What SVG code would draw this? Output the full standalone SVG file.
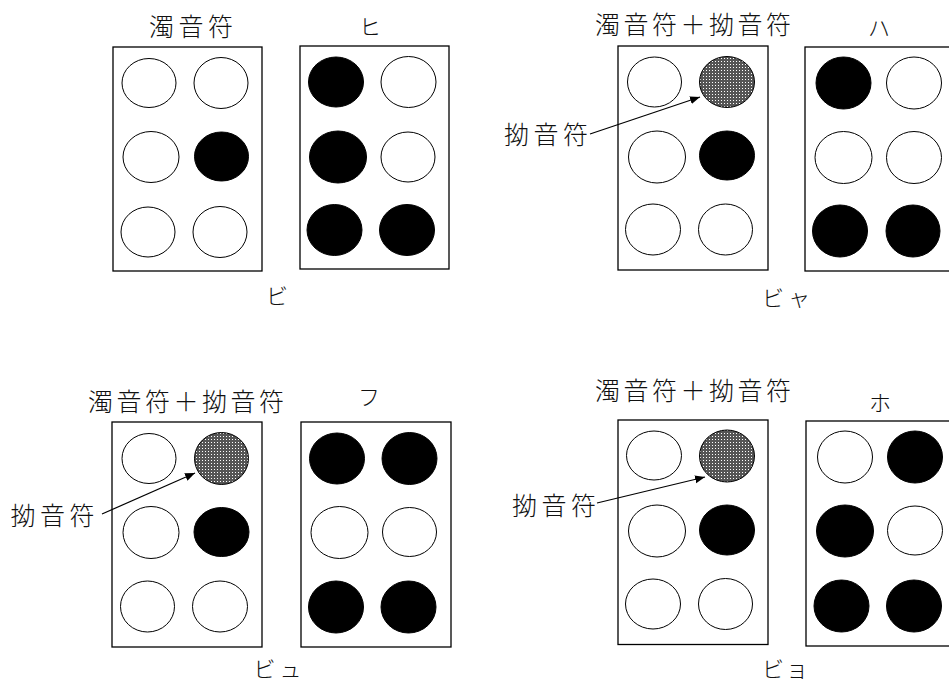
<svg xmlns="http://www.w3.org/2000/svg" width="949" height="684" viewBox="0 0 949 684">
<style>
.box{fill:#fff;stroke:#000;stroke-width:1.3}
.o{fill:#fff;stroke:#000;stroke-width:1}
.f{fill:#000;stroke:#000;stroke-width:1}
.g{fill:url(#dots);stroke:#000;stroke-width:1}
.lbl{font-family:"Noto Sans CJK JP","Noto Sans CJK SC",sans-serif;font-size:25px;fill:#111;text-anchor:middle;font-weight:300}
.kana{font-family:"Noto Sans CJK JP","Noto Sans CJK SC",sans-serif;font-size:22px;fill:#111;text-anchor:middle;font-weight:300}
.arr{stroke:#000;stroke-width:1.2;fill:none;marker-end:url(#ah)}
</style>
<defs>
<pattern id="dots" width="3" height="3" patternUnits="userSpaceOnUse">
<rect width="3" height="3" fill="#555"/>
<rect x="1" y="1" width="1" height="1" fill="#fff"/>
</pattern>
<marker id="ah" viewBox="0 0 10 10" refX="10" refY="5" markerWidth="10" markerHeight="10" markerUnits="userSpaceOnUse" orient="auto">
<path d="M0,1 L10,5 L0,9 z" fill="#000"/>
</marker>
</defs>
<rect width="949" height="684" fill="#fff"/>

<!-- Panel 1: ビ -->
<g id="p1-label"><text class="lbl" x="191" y="36" textLength="84" lengthAdjust="spacing">濁音符</text></g>
<g id="p1-box1">
<rect class="box" x="113" y="47" width="149" height="224"/>
<ellipse class="o" cx="149" cy="83" rx="27" ry="24.5"/>
<ellipse class="o" cx="221" cy="83" rx="27" ry="25.5"/>
<ellipse class="o" cx="151" cy="157" rx="28" ry="25.5"/>
<ellipse class="f" cx="221.5" cy="156.5" rx="27" ry="24.5"/>
<ellipse class="o" cx="148" cy="232" rx="27" ry="25"/>
<ellipse class="o" cx="220" cy="232" rx="27" ry="25.5"/>
</g>
<g id="p1-char"><text class="kana" x="370" y="35">ヒ</text></g>
<g id="p1-box2">
<rect class="box" x="300" y="46" width="149" height="223"/>
<ellipse class="f" cx="336" cy="82" rx="27.5" ry="25"/>
<ellipse class="o" cx="408.5" cy="82" rx="27.5" ry="25.5"/>
<ellipse class="f" cx="338" cy="157" rx="28.5" ry="26"/>
<ellipse class="o" cx="408" cy="157" rx="27" ry="25"/>
<ellipse class="f" cx="334.5" cy="230" rx="27.5" ry="25.5"/>
<ellipse class="f" cx="407" cy="230" rx="27.5" ry="25.5"/>
</g>
<g id="p1-result"><text class="kana" x="277" y="304">ビ</text></g>

<!-- Panel 2: ビャ -->
<g id="p2-label"><text class="lbl" x="693" y="34" textLength="196" lengthAdjust="spacing">濁音符＋拗音符</text></g>
<g id="p2-box1">
<rect class="box" x="618" y="46" width="150" height="224"/>
<ellipse class="o" cx="654.5" cy="82" rx="27" ry="25"/>
<ellipse class="g" cx="727" cy="82" rx="27.5" ry="25.5"/>
<ellipse class="o" cx="657" cy="157" rx="28.5" ry="26"/>
<ellipse class="f" cx="727" cy="155.5" rx="27.5" ry="24.5"/>
<ellipse class="o" cx="653" cy="229.5" rx="27.5" ry="25.5"/>
<ellipse class="o" cx="725.5" cy="229.5" rx="27" ry="25.5"/>
</g>
<g id="p2-yoon"><text class="lbl" x="546" y="144" textLength="84" lengthAdjust="spacing">拗音符</text></g>
<g id="p2-char"><text class="kana" x="879" y="36">ハ</text></g>
<g id="p2-box2">
<rect class="box" x="805" y="47" width="150" height="224"/>
<ellipse class="f" cx="843.5" cy="83" rx="27.5" ry="26"/>
<ellipse class="o" cx="914" cy="83" rx="27.5" ry="26"/>
<ellipse class="o" cx="843.5" cy="157.5" rx="28.5" ry="26"/>
<ellipse class="o" cx="914" cy="157.5" rx="27.5" ry="26"/>
<ellipse class="f" cx="840" cy="231" rx="27.5" ry="26"/>
<ellipse class="f" cx="913" cy="231" rx="27" ry="26"/>
</g>
<g id="p2-result"><text class="kana" x="786" y="306" textLength="48" lengthAdjust="spacing">ビャ</text></g>

<!-- Panel 3: ビュ -->
<g id="p3-label"><text class="lbl" x="186" y="411" textLength="196" lengthAdjust="spacing">濁音符＋拗音符</text></g>
<g id="p3-box1">
<rect class="box" x="112" y="422" width="150" height="225"/>
<ellipse class="o" cx="149" cy="458.5" rx="27" ry="25"/>
<ellipse class="g" cx="221.5" cy="458.5" rx="27" ry="26"/>
<ellipse class="o" cx="151" cy="532.5" rx="28" ry="26"/>
<ellipse class="f" cx="221.5" cy="532" rx="27.5" ry="24.5"/>
<ellipse class="o" cx="147.5" cy="606.5" rx="27" ry="25.5"/>
<ellipse class="o" cx="220" cy="606.5" rx="27.5" ry="25.5"/>
</g>
<g id="p3-yoon"><text class="lbl" x="52.5" y="525" textLength="84" lengthAdjust="spacing">拗音符</text></g>
<g id="p3-char"><text class="kana" x="369" y="405">フ</text></g>
<g id="p3-box2">
<rect class="box" x="301" y="422" width="150" height="225"/>
<ellipse class="f" cx="337" cy="458.5" rx="27.5" ry="25.5"/>
<ellipse class="f" cx="409.5" cy="458.5" rx="27.5" ry="26"/>
<ellipse class="o" cx="339.5" cy="532.5" rx="28.5" ry="26"/>
<ellipse class="o" cx="409.5" cy="532" rx="27" ry="24.5"/>
<ellipse class="f" cx="336" cy="607" rx="27.5" ry="26"/>
<ellipse class="f" cx="408.5" cy="607" rx="27.5" ry="26"/>
</g>
<g id="p3-result"><text class="kana" x="277.5" y="677" textLength="48" lengthAdjust="spacing">ビュ</text></g>

<!-- Panel 4: ビョ -->
<g id="p4-label"><text class="lbl" x="693" y="400" textLength="196" lengthAdjust="spacing">濁音符＋拗音符</text></g>
<g id="p4-box1">
<rect class="box" x="618" y="420" width="150" height="224.5"/>
<ellipse class="o" cx="654" cy="455.5" rx="27.5" ry="24.5"/>
<ellipse class="g" cx="727" cy="456" rx="27.5" ry="26"/>
<ellipse class="o" cx="657" cy="531" rx="28.5" ry="26"/>
<ellipse class="f" cx="727" cy="530" rx="27.5" ry="25"/>
<ellipse class="o" cx="653" cy="604" rx="27.5" ry="25"/>
<ellipse class="o" cx="725.5" cy="604" rx="27" ry="25.5"/>
</g>
<g id="p4-yoon"><text class="lbl" x="554" y="515" textLength="84" lengthAdjust="spacing">拗音符</text></g>
<g id="p4-char"><text class="kana" x="880" y="411">ホ</text></g>
<g id="p4-box2">
<rect class="box" x="806" y="421" width="150" height="225"/>
<ellipse class="o" cx="845" cy="457" rx="27.5" ry="26"/>
<ellipse class="f" cx="915" cy="457" rx="27.5" ry="26"/>
<ellipse class="f" cx="845" cy="531" rx="28.5" ry="26"/>
<ellipse class="o" cx="915" cy="530.5" rx="27.5" ry="24.5"/>
<ellipse class="f" cx="841.5" cy="606" rx="27.5" ry="26"/>
<ellipse class="f" cx="914" cy="606" rx="27.5" ry="26"/>
</g>
<g id="p4-result"><text class="kana" x="785" y="677" textLength="46" lengthAdjust="spacing">ビョ</text></g>

<g id="connectors">
<line class="arr" x1="590" y1="134" x2="700" y2="97"/>
<line class="arr" x1="102" y1="514" x2="195" y2="473"/>
<line class="arr" x1="597" y1="503" x2="705" y2="477"/>
</g>
</svg>
